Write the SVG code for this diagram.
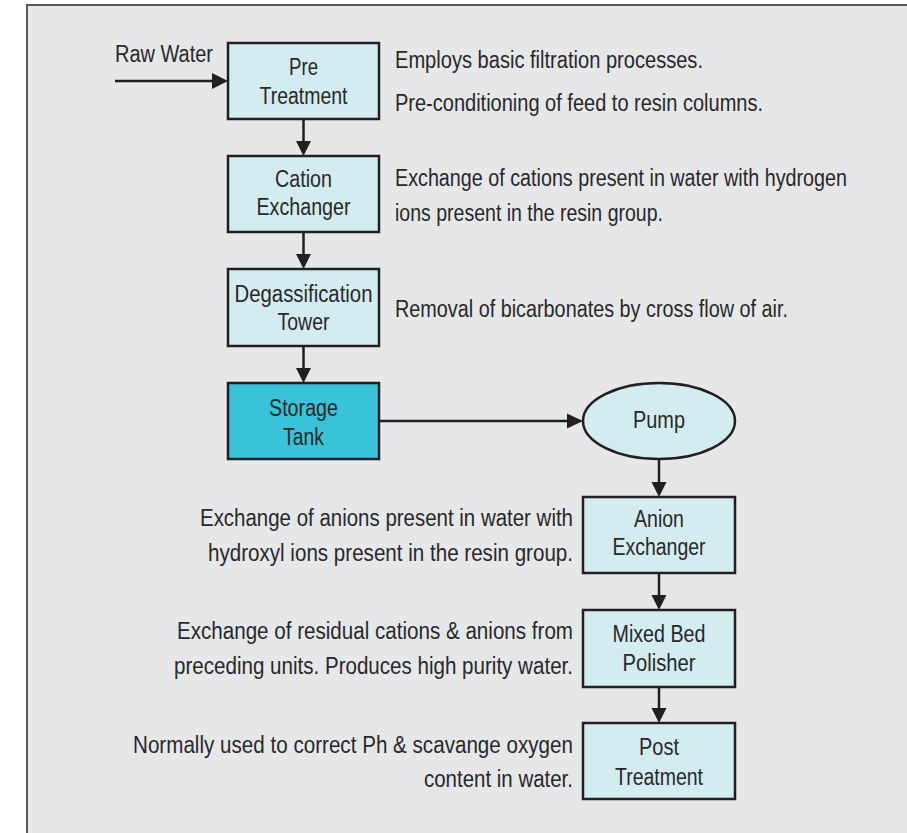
<svg xmlns="http://www.w3.org/2000/svg" width="907" height="833" viewBox="0 0 907 833">
<defs>
<style>
.t{font-family:"Liberation Sans Narrow","Liberation Sans",Arial,sans-serif;font-size:23.5px;fill:#2a2829}
.c{text-anchor:middle}
.e{text-anchor:end}
.box{fill:#d3ecf0;stroke:#231f20;stroke-width:2.5}
.tank{fill:#38c3d8;stroke:#231f20;stroke-width:2.5}
.ln{stroke:#231f20;stroke-width:2.5;fill:none}
.hd{fill:#231f20}
</style>
</defs>
<rect x="0" y="0" width="907" height="833" fill="#ffffff"/>
<rect x="27" y="5" width="900" height="850" fill="#e6e7e9" stroke="#58595b" stroke-width="2"/>

<g id="connectors">
<line class="ln" x1="115" y1="81" x2="214" y2="81"/>
<polygon class="hd" points="228,81 212,73 212,89"/>
<line class="ln" x1="303.5" y1="119" x2="303.5" y2="142"/>
<polygon class="hd" points="303.5,156 296,141 311,141"/>
<line class="ln" x1="303.5" y1="232" x2="303.5" y2="255"/>
<polygon class="hd" points="303.5,269 296,254 311,254"/>
<line class="ln" x1="303.5" y1="346" x2="303.5" y2="369"/>
<polygon class="hd" points="303.5,383 296,368 311,368"/>
<line class="ln" x1="379" y1="421" x2="569" y2="421"/>
<polygon class="hd" points="583,421 567,413.5 567,428.5"/>
<line class="ln" x1="659" y1="459" x2="659" y2="483"/>
<polygon class="hd" points="659,497 651.5,482 666.5,482"/>
<line class="ln" x1="659" y1="573" x2="659" y2="596"/>
<polygon class="hd" points="659,610 651.5,595 666.5,595"/>
<line class="ln" x1="659" y1="687" x2="659" y2="709"/>
<polygon class="hd" points="659,723 651.5,708 666.5,708"/>
</g>

<text class="t" x="115" y="62" textLength="98" lengthAdjust="spacingAndGlyphs">Raw Water</text>

<g id="pre-treatment">
<rect class="box" x="228" y="43" width="151" height="76"/>
<text class="t c" x="303.5" y="75" textLength="29" lengthAdjust="spacingAndGlyphs">Pre</text>
<text class="t c" x="303.5" y="104" textLength="88" lengthAdjust="spacingAndGlyphs">Treatment</text>
</g>
<g id="cation-exchanger">
<rect class="box" x="228" y="156" width="151" height="76"/>
<text class="t c" x="303.5" y="187" textLength="57" lengthAdjust="spacingAndGlyphs">Cation</text>
<text class="t c" x="303.5" y="215" textLength="94" lengthAdjust="spacingAndGlyphs">Exchanger</text>
</g>
<g id="degassification-tower">
<rect class="box" x="228" y="269" width="151" height="77"/>
<text class="t c" x="303.5" y="302" textLength="138" lengthAdjust="spacingAndGlyphs">Degassification</text>
<text class="t c" x="303.5" y="330" textLength="52" lengthAdjust="spacingAndGlyphs">Tower</text>
</g>
<g id="storage-tank">
<rect class="tank" x="228" y="383" width="151" height="76"/>
<text class="t c" x="303.5" y="416" textLength="69" lengthAdjust="spacingAndGlyphs">Storage</text>
<text class="t c" x="303.5" y="445" textLength="41" lengthAdjust="spacingAndGlyphs">Tank</text>
</g>
<g id="pump">
<ellipse class="box" cx="659" cy="421" rx="76" ry="38"/>
<text class="t c" x="659" y="428" textLength="52" lengthAdjust="spacingAndGlyphs">Pump</text>
</g>
<g id="anion-exchanger">
<rect class="box" x="583" y="497" width="152" height="76"/>
<text class="t c" x="659" y="527" textLength="50" lengthAdjust="spacingAndGlyphs">Anion</text>
<text class="t c" x="659" y="555" textLength="93" lengthAdjust="spacingAndGlyphs">Exchanger</text>
</g>
<g id="mixed-bed-polisher">
<rect class="box" x="583" y="610" width="152" height="77"/>
<text class="t c" x="659" y="642" textLength="93" lengthAdjust="spacingAndGlyphs">Mixed Bed</text>
<text class="t c" x="659" y="671" textLength="73" lengthAdjust="spacingAndGlyphs">Polisher</text>
</g>
<g id="post-treatment">
<rect class="box" x="583" y="723" width="152" height="76"/>
<text class="t c" x="659" y="755" textLength="40" lengthAdjust="spacingAndGlyphs">Post</text>
<text class="t c" x="659" y="785" textLength="88" lengthAdjust="spacingAndGlyphs">Treatment</text>
</g>

<g id="descriptions">
<text class="t" x="395" y="68" textLength="308" lengthAdjust="spacingAndGlyphs">Employs basic filtration processes.</text>
<text class="t" x="395" y="111" textLength="368" lengthAdjust="spacingAndGlyphs">Pre-conditioning of feed to resin columns.</text>
<text class="t" x="395" y="186" textLength="452" lengthAdjust="spacingAndGlyphs">Exchange of cations present in water with hydrogen</text>
<text class="t" x="395" y="221" textLength="268" lengthAdjust="spacingAndGlyphs">ions present in the resin group.</text>
<text class="t" x="395" y="317" textLength="393" lengthAdjust="spacingAndGlyphs">Removal of bicarbonates by cross flow of air.</text>
<text class="t e" x="573" y="526" textLength="373" lengthAdjust="spacingAndGlyphs">Exchange of anions present in water with</text>
<text class="t e" x="573" y="561" textLength="365" lengthAdjust="spacingAndGlyphs">hydroxyl ions present in the resin group.</text>
<text class="t e" x="573" y="639" textLength="396" lengthAdjust="spacingAndGlyphs">Exchange of residual cations &amp; anions from</text>
<text class="t e" x="573" y="674" textLength="399" lengthAdjust="spacingAndGlyphs">preceding units. Produces high purity water.</text>
<text class="t e" x="573" y="753" textLength="440" lengthAdjust="spacingAndGlyphs">Normally used to correct Ph &amp; scavange oxygen</text>
<text class="t e" x="573" y="787" textLength="149" lengthAdjust="spacingAndGlyphs">content in water.</text>
</g>
</svg>
